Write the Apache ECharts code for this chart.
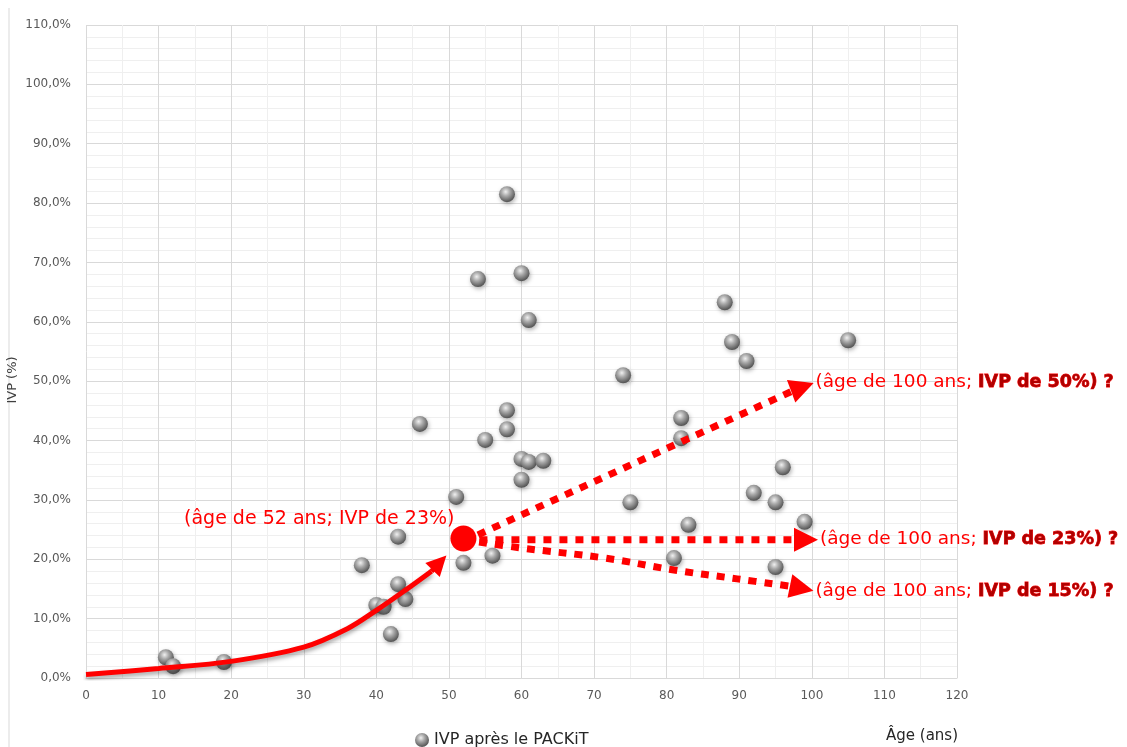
<!DOCTYPE html>
<html>
<head>
<meta charset="utf-8">
<script src="https://cdn.jsdelivr.net/npm/echarts@6/dist/echarts.min.js"></script>
<style>
  html, body { margin: 0; padding: 0; background: #fff; }
  #main { width: 1127px; height: 747px; }
</style>
</head>
<body>
<div id="main"></div>
<script>
// measured points (age, IVP %)
const ages = [11, 12, 19, 38, 40, 41, 42, 43, 43, 44, 46, 51, 52, 54, 55, 56, 58, 58, 58,
              60, 60, 61, 60, 61, 63, 74, 75, 81, 82, 82, 83, 88, 89, 91, 92, 95, 95, 96, 99, 105];
const ivp = [3.5, 2.0, 2.7, 19.0, 12.3, 12.0, 7.4, 23.8, 15.8, 13.3, 42.8, 30.5, 19.4, 67.2, 40.1, 20.6, 81.5, 45.1, 41.9,
             68.2, 36.9, 36.4, 33.4, 60.3, 36.6, 51.0, 29.6, 20.2, 43.8, 40.4, 25.8, 63.3, 56.6, 53.4, 31.2, 29.6, 18.7, 35.5, 26.3, 56.9];

// annotation: trend curve up to the focus point
const trendAge = [0, 10, 20, 30, 36, 40, 44, 47.6];
const trendIvp = [0.6, 1.6, 2.8, 5.2, 8.3, 11.4, 14.8, 18.0];
const trendTip = [48.7, 19.4];

const focusPoint = [52, 23.5];

// dashed projections to 100 years
const projAge = [
  [52, 97.6],
  [52, 97.6],
  [52, 60, 71.5, 81, 89.7, 97.4]
];
const projIvp = [
  [23.0, 48.5],
  [23.3, 23.3],
  [23.3, 21.9, 20.2, 18.2, 16.7, 15.4]
];
const projTip = [[98.7, 49.0], [99.2, 23.3], [98.6, 15.1]];
const projLabel = ['50%', '23%', '15%'];

const xTicks = { min: 0, max: 120, step: 10 };
const yTicks = { min: 0, max: 110, step: 10 };

const FONT = 'DejaVu Sans';
const RED = '#ff0000';

let chartDom = document.getElementById('main');
let myChart = echarts.init(chartDom);
let option;

const sphere = {
  type: 'radial', x: 0.42, y: 0.35, r: 0.75,
  colorStops: [
    { offset: 0, color: '#f0f0f0' },
    { offset: 0.35, color: '#aaaaaa' },
    { offset: 0.8, color: '#5e5e5e' },
    { offset: 1, color: '#404040' }
  ]
};

const zip = (xs, ys) => xs.map((x, i) => [x, ys[i]]);

let projSeries = projAge.map((xs, k) => ({
  type: 'line',
  data: zip(xs, projIvp[k]),
  smooth: k === 2 ? 0.4 : false,
  showSymbol: false,
  silent: true,
  z: 5,
  lineStyle: { color: RED, width: 7, type: [8, 8], cap: 'butt' },
  markLine: {
    silent: true,
    symbol: ['none', 'triangle'],
    symbolSize: 24,
    lineStyle: { color: RED, width: 1, type: 'solid' },
    label: {
      show: true,
      position: 'end',
      distance: 14,
      formatter: '{a|(âge de 100 ans; }{b|IVP de ' + projLabel[k] + ') ?}',
      rich: {
        a: { color: RED, fontSize: 18.5, fontFamily: FONT },
        b: { color: '#b00000', fontSize: 17.5, fontFamily: FONT, fontWeight: 'bold',
             textBorderColor: RED, textBorderWidth: 0.8 }
      }
    },
    data: [[{ coord: [xs[xs.length - 1], projIvp[k][xs.length - 1]] }, { coord: projTip[k] }]]
  }
}));

option = {
  animation: false,
  textStyle: { fontFamily: FONT },
  grid: { left: 86, right: 170, top: 25, bottom: 69 },
  title: {
    text: 'Âge (ans)',
    left: 886, top: 729, padding: 0,
    textStyle: { fontSize: 15, fontWeight: 'normal', color: '#262626', fontFamily: FONT }
  },
  legend: {
    data: ['IVP après le PACKiT'],
    left: 410, top: 727,
    icon: 'circle',
    itemWidth: 14, itemHeight: 14, itemGap: 4,
    textStyle: { fontSize: 16, color: '#262626', fontFamily: FONT }
  },
  graphic: [
    { type: 'line', shape: { x1: 9, y1: 8, x2: 9, y2: 747 }, style: { stroke: '#d9d9d9', lineWidth: 1 } },
    {
      type: 'text', x: 13, y: 380, rotation: Math.PI / 2,
      style: { text: 'IVP (%)', fontSize: 13, fill: '#404040', fontFamily: FONT,
               textAlign: 'center', textVerticalAlign: 'middle' }
    }
  ],
  xAxis: {
    type: 'value',
    min: xTicks.min, max: xTicks.max, interval: xTicks.step,
    axisLine: { show: true, lineStyle: { color: '#d9d9d9', width: 1 } },
    axisTick: { show: false },
    axisLabel: { color: '#595959', fontSize: 12, margin: 12 },
    splitLine: { lineStyle: { color: '#d9d9d9', width: 1 } },
    minorTick: { show: false, splitNumber: 2 },
    minorSplitLine: { show: true, lineStyle: { color: '#efefef', width: 1 } }
  },
  yAxis: {
    type: 'value',
    min: yTicks.min, max: yTicks.max, interval: yTicks.step,
    axisLine: { show: false },
    axisTick: { show: false },
    axisLabel: {
      color: '#595959', fontSize: 12, margin: 15,
      formatter: v => v.toFixed(1).replace('.', ',') + '%'
    },
    splitLine: { lineStyle: { color: '#d9d9d9', width: 1 } },
    minorTick: { show: false, splitNumber: 5 },
    minorSplitLine: { show: true, lineStyle: { color: '#efefef', width: 1 } }
  },
  series: [
    {
      name: 'IVP après le PACKiT',
      type: 'scatter',
      data: zip(ages, ivp),
      symbolSize: 16,
      itemStyle: {
        color: sphere, opacity: 1,
        shadowBlur: 4, shadowColor: 'rgba(0,0,0,0.3)', shadowOffsetX: 1, shadowOffsetY: 2
      },
      z: 2
    },
    {
      type: 'line',
      data: zip(trendAge, trendIvp),
      smooth: 0.35,
      showSymbol: false,
      silent: true,
      z: 5,
      lineStyle: {
        color: RED, width: 5,
        shadowBlur: 4, shadowColor: 'rgba(0,0,0,0.35)', shadowOffsetY: 3
      },
      markLine: {
        silent: true,
        symbol: ['none', 'triangle'],
        symbolSize: 20,
        lineStyle: { color: RED, width: 5, type: 'solid' },
        label: { show: false },
        data: [[{ coord: [trendAge[trendAge.length - 1], trendIvp[trendIvp.length - 1]] }, { coord: trendTip }]]
      }
    },
    ...projSeries,
    {
      type: 'scatter',
      data: [focusPoint],
      symbolSize: 26,
      silent: true,
      z: 6,
      itemStyle: { color: RED, opacity: 1 },
      label: {
        show: true,
        position: 'left',
        distance: -4,
        offset: [0, -19],
        color: RED,
        fontSize: 19,
        fontFamily: FONT,
        formatter: '(âge de 52 ans; IVP de 23%)'
      }
    }
  ]
};

option && myChart.setOption(option);
</script>
</body>
</html>
